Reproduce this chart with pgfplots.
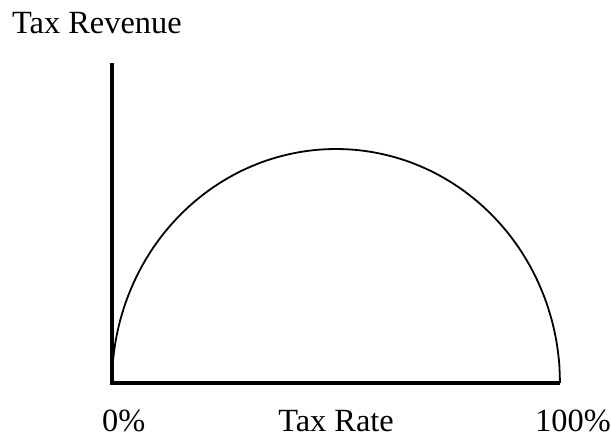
\documentclass[border=0pt]{standalone}
\usepackage{fontspec}
\setmainfont{Liberation Serif}
\usepackage{pgfplots}
\pgfplotsset{compat=1.18}
\begin{document}
\begin{tikzpicture}
\path[use as bounding box] (0,0) rectangle (611bp,437bp);
\begin{axis}[
  at={(112bp,54bp)}, anchor=south west,
  scale only axis, width=448bp, height=320bp,
  xmin=0, xmax=100, ymin=0, ymax=1.3675,
  hide axis, clip=false,
]
\draw[line width=4bp, line join=miter] (axis cs:0,1.3675) -- (axis cs:0,0) -- (axis cs:100,0);
\addplot[black, line width=1.8bp, smooth] coordinates {
(0,0) (0.190,0.0872) (0.760,0.1736) (1.704,0.2588) (3.015,0.3420) (4.685,0.4226)
(6.699,0.5) (9.042,0.5736) (11.698,0.6428) (14.645,0.7071) (17.861,0.7660)
(21.321,0.8192) (25,0.8660) (28.869,0.9063) (32.899,0.9397) (37.059,0.9659)
(41.318,0.9848) (45.642,0.9962) (50,1)
(54.358,0.9962) (58.682,0.9848) (62.941,0.9659) (67.101,0.9397) (71.131,0.9063)
(75,0.8660) (78.679,0.8192) (82.139,0.7660) (85.355,0.7071) (88.302,0.6428)
(90.958,0.5736) (93.301,0.5) (95.315,0.4226) (96.985,0.3420) (98.296,0.2588)
(99.240,0.1736) (99.810,0.0872) (100,0)
};
\end{axis}
\fontsize{32.5}{37}\selectfont
\node[anchor=base west, inner sep=0pt] at (12bp,403bp) {Tax Revenue};
\node[anchor=base west, inner sep=0pt] at (102bp,6bp) {0\%};
\node[anchor=base, inner sep=0pt] at (336bp,6bp) {Tax Rate};
\node[anchor=base west, inner sep=0pt] at (535bp,6bp) {100\%};
\end{tikzpicture}
\end{document}
